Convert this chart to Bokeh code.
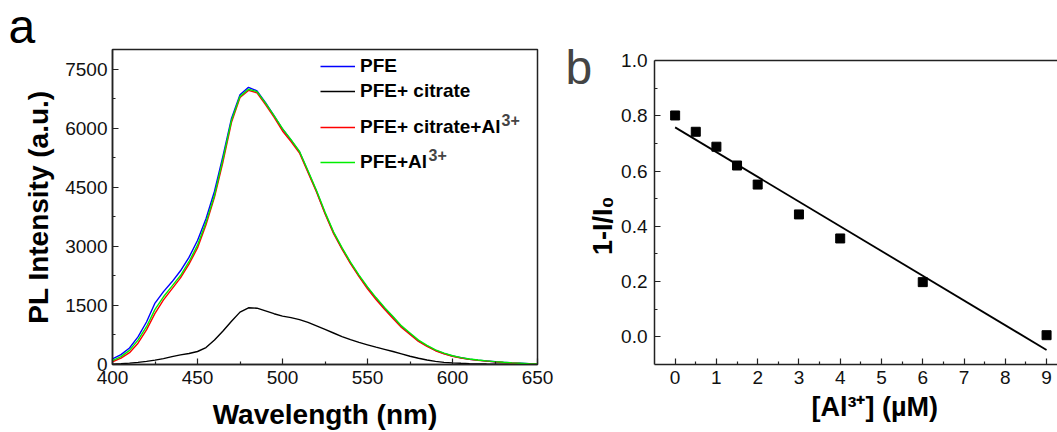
import math
import numpy as np
from bokeh.plotting import figure
from bokeh.models import (Range1d, FixedTicker, Label, Legend, LegendItem, Span, LinearAxis,
                          NumeralTickFormatter)
from bokeh.layouts import row
from bokeh.embed import file_html
from bokeh.resources import INLINE

# ---------------- data ----------------
wavelength = list(range(400, 655, 5))
pfe = [140, 250, 420, 700, 1080, 1560, 1850, 2100, 2380, 2720, 3150, 3700, 4400, 5300, 6250,
       6850, 7040, 6950, 6650, 6320, 5980, 5700, 5400, 4900, 4400, 3850, 3350, 2950, 2580, 2250,
       1950, 1680, 1430, 1200, 960, 780, 600, 470, 360, 280, 215, 170, 135, 110, 90, 70, 55, 40,
       30, 20, 15]
pfe_citrate = [10, 20, 35, 55, 80, 110, 150, 200, 245, 280, 330, 430, 620, 850, 1100, 1330, 1440,
               1430, 1360, 1290, 1230, 1190, 1140, 1070, 980, 890, 800, 710, 630, 560, 500, 440,
               385, 330, 270, 210, 160, 115, 80, 55, 40, 30, 22, 16, 12, 9, 6, 4, 3, 2, 1]
pfe_citrate_al = [70, 160, 300, 540, 880, 1300, 1640, 1920, 2200, 2550, 2960, 3550, 4250, 5150,
                  6150, 6780, 6960, 6900, 6600, 6280, 5930, 5660, 5370, 4880, 4380, 3830, 3330,
                  2930, 2560, 2230, 1920, 1650, 1400, 1170, 940, 760, 585, 460, 350, 272, 208,
                  165, 130, 106, 86, 67, 52, 38, 28, 19, 14]
pfe_al = [100, 200, 360, 620, 960, 1400, 1720, 1990, 2260, 2610, 3030, 3610, 4300, 5220, 6200,
          6810, 6990, 6930, 6640, 6320, 5990, 5710, 5410, 4920, 4420, 3870, 3370, 2970, 2600,
          2270, 1970, 1700, 1450, 1220, 980, 800, 620, 485, 372, 290, 222, 176, 140, 114, 93,
          73, 57, 42, 32, 22, 16]

al_conc = [0, 0.5, 1, 1.5, 2, 3, 4, 6, 9]
quench = [0.801, 0.742, 0.688, 0.620, 0.551, 0.443, 0.356, 0.198, 0.006]

wl_ticks = [400, 450, 500, 550, 600, 650]
wl_minor = [425, 475, 525, 575, 625]
int_ticks = [0, 1500, 3000, 4500, 6000, 7500]
int_minor = [750, 2250, 3750, 5250, 6750]
c_ticks = [0, 1, 2, 3, 4, 5, 6, 7, 8, 9]
c_minor = [0.5, 1.5, 2.5, 3.5, 4.5, 5.5, 6.5, 7.5, 8.5]
q_ticks = [0.0, 0.2, 0.4, 0.6, 0.8, 1.0]
q_minor = [0.1, 0.3, 0.5, 0.7, 0.9]

FONT = "Liberation Sans"
AX = "#222222"
NB = "\u00a0"


def style_axis(ax, ticks, minor, label_standoff):
    ax.ticker = FixedTicker(ticks=ticks, minor_ticks=minor)
    ax.major_tick_in = 6
    ax.major_tick_out = 0
    ax.minor_tick_in = 3
    ax.minor_tick_out = 0
    ax.axis_line_color = AX
    ax.axis_line_width = 1.5
    ax.major_tick_line_color = AX
    ax.minor_tick_line_color = AX
    ax.major_tick_line_width = 1.2
    ax.minor_tick_line_width = 1.2
    ax.major_label_text_font = FONT
    ax.major_label_text_font_size = "19px"
    ax.major_label_text_color = "#111111"
    ax.major_label_standoff = label_standoff
    ax.axis_label_text_font = FONT
    ax.axis_label_text_font_style = "bold"
    ax.axis_label_text_color = "#000000"


# ---------------- panel a ----------------
p1 = figure(width=554, height=432, x_range=Range1d(400, 650), y_range=Range1d(0, 8000),
            output_backend="svg", toolbar_location=None,
            min_border_left=112, min_border_right=17, min_border_top=49, min_border_bottom=67)
p1.grid.visible = False
p1.outline_line_color = AX
p1.outline_line_width = 1.5
p1.outline_line_alpha = 1
style_axis(p1.xaxis[0], wl_ticks, wl_minor, 6)
style_axis(p1.yaxis[0], int_ticks, int_minor, 5)
p1.xaxis[0].axis_label = "Wavelength (nm)"
p1.xaxis[0].axis_label_text_font_size = "28px"
p1.xaxis[0].axis_label_standoff = 12
p1.yaxis[0].axis_label = "PL Intensity (a.u.)"
p1.yaxis[0].axis_label_text_font_size = "28px"
p1.yaxis[0].axis_label_standoff = 8

p1.title.text = "a"
p1.title.align = "left"
p1.title.offset = -104
p1.title.standoff = -9.6
p1.title.vertical_align = "top"
p1.title.text_font = FONT
p1.title.text_font_size = "48px"
p1.title.text_font_style = "normal"
p1.title.text_color = "#000000"

r_b = p1.line(wavelength, pfe, line_color="#0000ff", line_width=1.4)
r_k = p1.line(wavelength, pfe_citrate, line_color="#000000", line_width=1.4)
r_r = p1.line(wavelength, pfe_citrate_al, line_color="#ff0000", line_width=1.4)
r_g = p1.line(wavelength, pfe_al, line_color="#00ee00", line_width=1.4)

legend_rows = [("PFE", r_b, 286.7), ("PFE+ citrate", r_k, 261.7),
               ("PFE+ citrate+Al", r_r, 225.7), ("PFE+Al", r_g, 190.7)]
for text, rend, vy in legend_rows:
    lg = Legend(items=[LegendItem(label=text, renderers=[rend])], location=(208, vy),
                padding=0, margin=0, spacing=0, glyph_width=35, glyph_height=20,
                label_height=20, label_standoff=5, border_line_color=None,
                background_fill_alpha=0, label_text_font=FONT, label_text_font_size="19px",
                label_text_font_style="bold", label_text_color="#000000")
    p1.add_layout(lg)

p1.add_layout(Label(x=389, y=239, x_units="screen", y_units="screen", text="3+",
                    text_font=FONT, text_font_size="16px", text_font_style="bold"))
p1.add_layout(Label(x=316, y=204, x_units="screen", y_units="screen", text="3+",
                    text_font=FONT, text_font_size="16px", text_font_style="bold"))

# ---------------- panel b ----------------
p2 = figure(width=503, height=432, x_range=Range1d(-0.5, 9.265), y_range=Range1d(-0.1, 1.0397),
            output_backend="svg", toolbar_location=None,
            min_border_left=100, min_border_right=0, min_border_top=49, min_border_bottom=67)
p2.grid.visible = False
p2.outline_line_color = None
style_axis(p2.xaxis[0], c_ticks, c_minor, 6)
style_axis(p2.yaxis[0], q_ticks, q_minor, 7)
p2.yaxis[0].formatter = NumeralTickFormatter(format="0.0")
p2.yaxis[0].bounds = (-0.1, 1.0)
p2.xaxis[0].axis_label = NB * 5 + "[Al\u00b3\u207a] (\u00b5M)"
p2.xaxis[0].axis_label_text_font_size = "27px"
p2.xaxis[0].axis_label_standoff = 5

ytitle = LinearAxis(ticker=FixedTicker(ticks=[]), axis_line_color=None,
                    major_tick_in=0, major_tick_out=0, minor_tick_in=0, minor_tick_out=0,
                    major_label_standoff=0, axis_label="1-I/I\u2080" + NB * 5,
                    axis_label_standoff=1, axis_label_text_font=FONT,
                    axis_label_text_font_size="27px", axis_label_text_font_style="bold",
                    axis_label_text_color="#000000")
p2.add_layout(ytitle, "left")
p2.add_layout(Span(location=1.0, dimension="width", line_color=AX, line_width=1.5))

slope, intercept = np.polyfit(al_conc, quench, 1)
fit_x = [al_conc[0], al_conc[-1]]
fit_y = [intercept + slope * v for v in fit_x]
p2.line(fit_x, fit_y, line_color="#000000", line_width=1.8)
p2.scatter(al_conc, quench, marker="square", size=9, fill_color="#000000", line_color="#000000")

p2.add_layout(Label(x=8, y=297, x_units="screen", y_units="screen", text="b",
                    text_baseline="alphabetic", text_font=FONT, text_font_size="48px"), "left")

layout = row(p1, p2)
open("out.html", "w").write(file_html(layout, INLINE))
